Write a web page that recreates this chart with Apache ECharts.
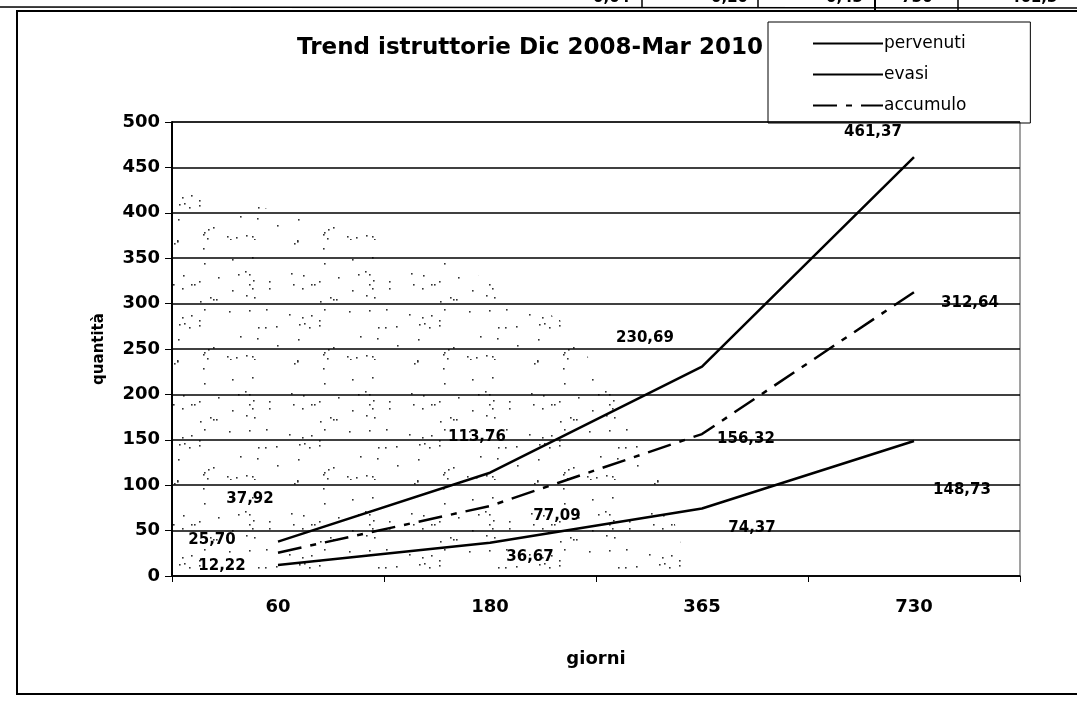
<!DOCTYPE html>
<html>
<head>
<meta charset="utf-8">
<script src="https://cdn.jsdelivr.net/npm/echarts@6/dist/echarts.min.js"></script>
<style>
  html, body { margin: 0; padding: 0; background: #fff; }
  #chart { width: 1077px; height: 703px; }
</style>
</head>
<body>
<div id="chart"></div>
<script>
// ─── Data ───────────────────────────────────────────────────────────────────
const giorni = ['60', '180', '365', '730'];
const pervenuti = [37.92, 113.76, 230.69, 461.37];
const evasi = [12.22, 36.67, 74.37, 148.73];
const accumulo = [25.70, 77.09, 156.32, 312.64];
const yTicks = [0, 50, 100, 150, 200, 250, 300, 350, 400, 450, 500];

// label placement (Excel put them by hand, roughly)
const labelOffsets = {
  pervenuti: [[-28, -42], [-13, -36], [-57, -28], [-41, -25]],
  evasi:     [[-56, 1], [40, 14], [50, 20], [48, 49]],
  accumulo:  [[-66, -13], [67, 10], [44, 5], [56, 11]],
};

const FONT = '"DejaVu Sans", "Liberation Sans", Arial, sans-serif';
const fmt = v => v.toFixed(2).replace('.', ',');

function withLabels(values, offs) {
  return values.map((v, i) => ({
    value: v,
    label: { show: true, position: 'inside', offset: offs[i] },
  }));
}

function lineSeries(name, values, offs, lineType) {
  return {
    name,
    type: 'line',
    data: withLabels(values, offs),
    symbol: 'circle',
    symbolSize: 0,
    itemStyle: { color: '#000' },
    lineStyle: { color: '#000', width: 2.5, type: lineType },
    label: {
      color: '#000',
      fontFamily: FONT,
      fontSize: 15,
      fontWeight: 'bold',
      formatter: p => fmt(p.value),
    },
    animation: false,
    z: 3,
  };
}

// speckle texture of the scanned plot background (fixed hash, decoration only)
function speckle() {
  const c = document.createElement('canvas');
  c.width = 120; c.height = 120;
  const g = c.getContext('2d');
  g.fillStyle = '#333';
  let s = 0x9e3779b9;
  const next = () => {
    s ^= s << 13; s ^= s >>> 17; s ^= s << 5;
    return (s >>> 0) / 4294967296;
  };
  for (let i = 0; i < 60; i++) {
    const x = Math.floor(next() * 120);
    const y = Math.floor(next() * 120);
    g.fillRect(x, y, 1.6, 1.6);
  }
  return c;
}

const chart = echarts.init(document.getElementById('chart'), null, { renderer: 'canvas' });

chart.setOption({
  backgroundColor: '#fff',
  animation: false,
  textStyle: { fontFamily: FONT, color: '#000' },
  title: {
    text: 'Trend istruttorie Dic 2008-Mar 2010',
    left: 525,
    textAlign: 'center',
    top: 32,
    textStyle: { fontFamily: FONT, fontSize: 23, fontWeight: 'bold', color: '#000' },
  },
  legend: {
    orient: 'vertical',
    left: 768,
    top: 22,
    padding: [13, 64, 9, 44],
    itemWidth: 70,
    itemHeight: 14,
    itemGap: 14,
    borderColor: '#000',
    borderWidth: 1,
    itemStyle: { opacity: 0 },
    textStyle: { fontFamily: FONT, fontSize: 17, color: '#000', padding: [0, 0, 0, -4] },
    data: ['pervenuti', 'evasi', 'accumulo'],
  },
  grid: {
    left: 172,
    right: 57,
    top: 122,
    bottom: 127,
    show: true,
    borderColor: '#444',
    borderWidth: 1,
  },
  xAxis: {
    type: 'category',
    data: giorni,
    boundaryGap: true,
    name: 'giorni',
    nameLocation: 'middle',
    nameGap: 74,
    nameTextStyle: { fontFamily: FONT, fontSize: 18, fontWeight: 'bold', color: '#000' },
    axisLine: { lineStyle: { color: '#000', width: 1.5 } },
    axisTick: { show: true, length: 6, lineStyle: { color: '#000' } },
    axisLabel: { fontFamily: FONT, fontSize: 18, fontWeight: 'bold', color: '#000', margin: 22 },
  },
  yAxis: {
    type: 'value',
    min: yTicks[0],
    max: yTicks[yTicks.length - 1],
    interval: yTicks[1] - yTicks[0],
    name: 'quantità',
    nameLocation: 'middle',
    nameGap: 65,
    nameRotate: 90,
    nameTextStyle: { fontFamily: FONT, fontSize: 15, fontWeight: 'bold', color: '#000' },
    axisLine: { show: true, lineStyle: { color: '#000', width: 2 } },
    axisTick: { show: true, length: 7, lineStyle: { color: '#000' } },
    axisLabel: { fontFamily: FONT, fontSize: 18, fontWeight: 'bold', color: '#000', margin: 12 },
    splitLine: { show: true, lineStyle: { color: '#000', width: 1.5 } },
  },
  series: [
    lineSeries('pervenuti', pervenuti, labelOffsets.pervenuti, 'solid'),
    lineSeries('evasi', evasi, labelOffsets.evasi, 'solid'),
    lineSeries('accumulo', accumulo, labelOffsets.accumulo, [24, 9, 6, 9]),
  ],
  graphic: [
    // outer frame of the pasted Excel chart
    { type: 'rect', shape: { x: 17, y: 11, width: 1100, height: 683 },
      style: { fill: 'none', stroke: '#000', lineWidth: 2 }, silent: true, z: -1 },
    // speckled area of the scan
    { type: 'polygon', silent: true, z: -2,
      shape: { points: [[173, 190], [300, 215], [440, 255], [560, 320], [650, 440], [690, 575], [173, 575]] },
      style: { fill: { image: speckle(), repeat: 'repeat' } } },
    // fragment of the table above
    { type: 'line', shape: { x1: 0, y1: 7, x2: 1077, y2: 8 }, style: { stroke: '#000', lineWidth: 1.5 } },
    { type: 'line', shape: { x1: 642, y1: 0, x2: 642, y2: 8 }, style: { stroke: '#000', lineWidth: 1.5 } },
    { type: 'line', shape: { x1: 758, y1: 0, x2: 758, y2: 8 }, style: { stroke: '#000', lineWidth: 1.5 } },
    { type: 'line', shape: { x1: 875, y1: 0, x2: 875, y2: 10 }, style: { stroke: '#000', lineWidth: 2 } },
    { type: 'line', shape: { x1: 958, y1: 0, x2: 958, y2: 10 }, style: { stroke: '#000', lineWidth: 1.5 } },
    { type: 'text', x: 630, y: 6, style: { text: '0,04', font: 'bold 15px ' + FONT, fill: '#000', textAlign: 'right', textVerticalAlign: 'bottom' } },
    { type: 'text', x: 748, y: 6, style: { text: '0,20', font: 'bold 15px ' + FONT, fill: '#000', textAlign: 'right', textVerticalAlign: 'bottom' } },
    { type: 'text', x: 863, y: 6, style: { text: '0,43', font: 'bold 15px ' + FONT, fill: '#000', textAlign: 'right', textVerticalAlign: 'bottom' } },
    { type: 'text', x: 917, y: 6, style: { text: '730', font: 'bold 15px ' + FONT, fill: '#000', textAlign: 'center', textVerticalAlign: 'bottom' } },
    { type: 'text', x: 1010, y: 6, style: { text: '461,3', font: 'bold 15px ' + FONT, fill: '#000', textAlign: 'left', textVerticalAlign: 'bottom' } },
  ],
});
</script>
</body>
</html>
